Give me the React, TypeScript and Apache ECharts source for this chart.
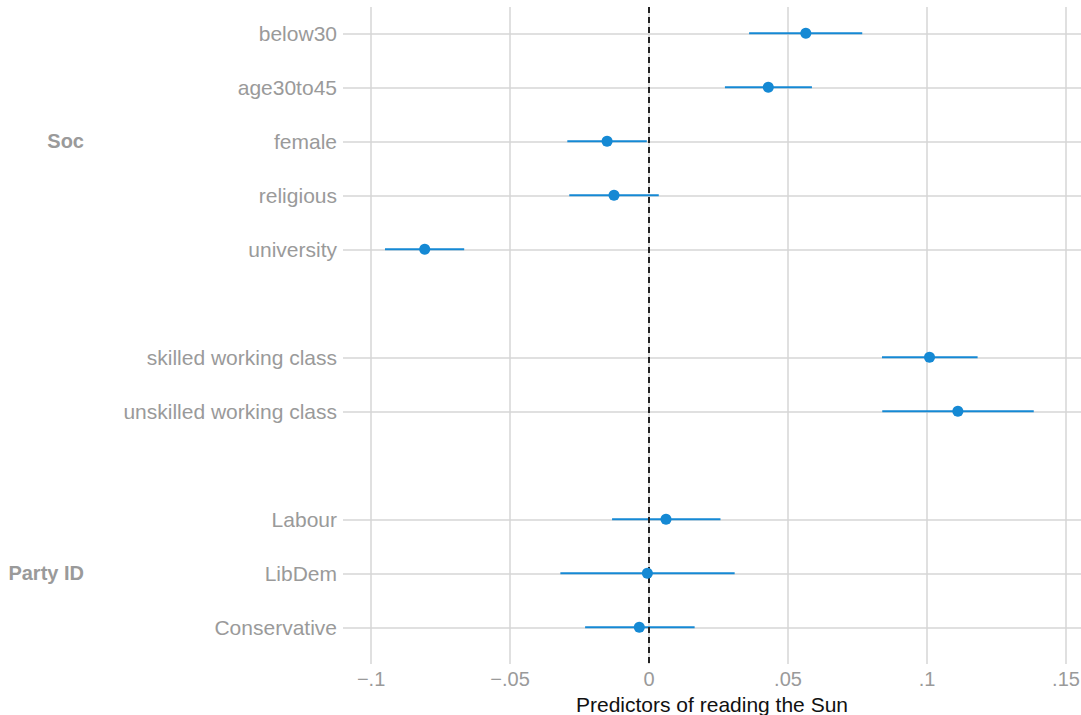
import React, { useEffect, useRef } from "react";
import * as echarts from "echarts";

// Predictor names, top to bottom; empty slots separate the groups
const rowLabels: string[] = [
  "below30",
  "age30to45",
  "female",
  "religious",
  "university",
  "",
  "skilled working class",
  "unskilled working class",
  "",
  "Labour",
  "LibDem",
  "Conservative",
];

// Point estimates and 95% interval bounds (null for spacer rows)
const estimates: (number | null)[] = [
  0.0564, 0.0429, -0.0151, -0.0126, -0.0807, null, 0.1009, 0.1111, null, 0.0061, -0.0006, -0.0035,
];
const lowerBounds: (number | null)[] = [
  0.036, 0.0273, -0.0294, -0.0287, -0.095, null, 0.0838, 0.0839, null, -0.0133, -0.0319, -0.023,
];
const upperBounds: (number | null)[] = [
  0.0767, 0.0586, -0.0008, 0.0035, -0.0665, null, 0.1182, 0.1384, null, 0.0257, 0.0308, 0.0164,
];

// Group headings and the row each is centred on
const groupLabels: string[] = ["Soc", "Party ID"];
const groupRows: number[] = [2, 10];

// x-axis ticks and their printed form
const xTicks: number[] = [-0.1, -0.05, 0, 0.05, 0.1, 0.15];
const xTickLabels: string[] = ["\u2212.1", "\u2212.05", "0", ".05", ".1", ".15"];

const xTitle = "Predictors of reading the Sun";

const BLUE = "#1589d4";
const GRID = "#d6d6d6";
const LABEL = "#9a9a9a";
const FONT = "'Liberation Sans', Arial, Helvetica, sans-serif";

export default function App() {
  const ref = useRef<HTMLDivElement>(null);

  useEffect(() => {
    if (!ref.current) return;
    const chart = echarts.init(ref.current, undefined, { renderer: "svg" });

    const rowIdx = rowLabels.map((_, i) => i).filter((i) => rowLabels[i] !== "");
    const intervals = rowIdx.map((i) => [lowerBounds[i], upperBounds[i], i]);
    const points = rowIdx.map((i) => [estimates[i], i]);

    chart.setOption({
      animation: false,
      backgroundColor: "#ffffff",
      textStyle: { fontFamily: FONT },
      grid: {
        left: 343,
        right: 0,
        top: 7,
        bottom: 51,
        containLabel: false,
        outerBoundsMode: "none",
      },
      xAxis: {
        type: "value",
        min: -0.1101,
        max: 0.1554,
        axisLine: { show: false },
        axisTick: { show: false, customValues: xTicks },
        splitLine: { show: true, lineStyle: { color: GRID, width: 1.5 } },
        axisLabel: {
          customValues: xTicks,
          color: LABEL,
          fontSize: 20,
          fontFamily: FONT,
          margin: 5,
          formatter: (v: number) => {
            const k = xTicks.findIndex((t) => Math.abs(t - v) < 1e-9);
            return k >= 0 ? xTickLabels[k] : "";
          },
        },
        name: xTitle,
        nameLocation: "middle",
        nameGap: 21,
        nameTextStyle: {
          color: "#111111",
          fontSize: 21,
          fontFamily: FONT,
          verticalAlign: "top",
        },
      },
      yAxis: [
        {
          type: "value",
          inverse: true,
          min: -0.487,
          max: 11.68,
          axisLine: { show: false },
          axisTick: { show: false, customValues: rowIdx },
          splitLine: { show: true, lineStyle: { color: GRID, width: 1.5 } },
          axisLabel: {
            customValues: rowIdx,
            color: LABEL,
            fontSize: 21,
            fontFamily: FONT,
            margin: 6,
            formatter: (v: number) => rowLabels[Math.round(v)] ?? "",
          },
        },
        {
          type: "value",
          inverse: true,
          min: -0.487,
          max: 11.68,
          position: "left",
          offset: 259,
          axisLine: { show: false },
          axisTick: { show: false, customValues: groupRows },
          splitLine: { show: false },
          axisLabel: {
            customValues: groupRows,
            color: LABEL,
            fontSize: 20,
            fontWeight: "bold",
            fontFamily: FONT,
            margin: 0,
            formatter: (v: number) => {
              const k = groupRows.indexOf(Math.round(v));
              return k >= 0 ? groupLabels[k] : "";
            },
          },
        },
      ],
      series: [
        {
          type: "custom",
          name: "interval",
          z: 3,
          data: intervals,
          encode: { x: [0, 1], y: 2 },
          renderItem: (_params: any, api: any) => {
            const a = api.coord([api.value(0), api.value(2)]);
            const b = api.coord([api.value(1), api.value(2)]);
            return {
              type: "line",
              shape: { x1: a[0], y1: a[1], x2: b[0], y2: b[1] },
              style: { stroke: BLUE, lineWidth: 2 },
            };
          },
        },
        {
          type: "scatter",
          name: "zero",
          z: 4,
          data: [],
          markLine: {
            silent: true,
            symbol: "none",
            label: { show: false },
            lineStyle: { color: "#222222", type: [6, 4], width: 2 },
            data: [{ xAxis: 0 }],
          },
        },
        {
          type: "scatter",
          name: "estimate",
          z: 5,
          data: points,
          symbol: "circle",
          symbolSize: 11,
          itemStyle: { color: BLUE, opacity: 1 },
        },
      ],
    });

    return () => chart.dispose();
  }, []);

  return (
    <div
      ref={ref}
      style={{ position: "absolute", left: 0, top: 0, width: 1081, height: 715 }}
    />
  );
}
